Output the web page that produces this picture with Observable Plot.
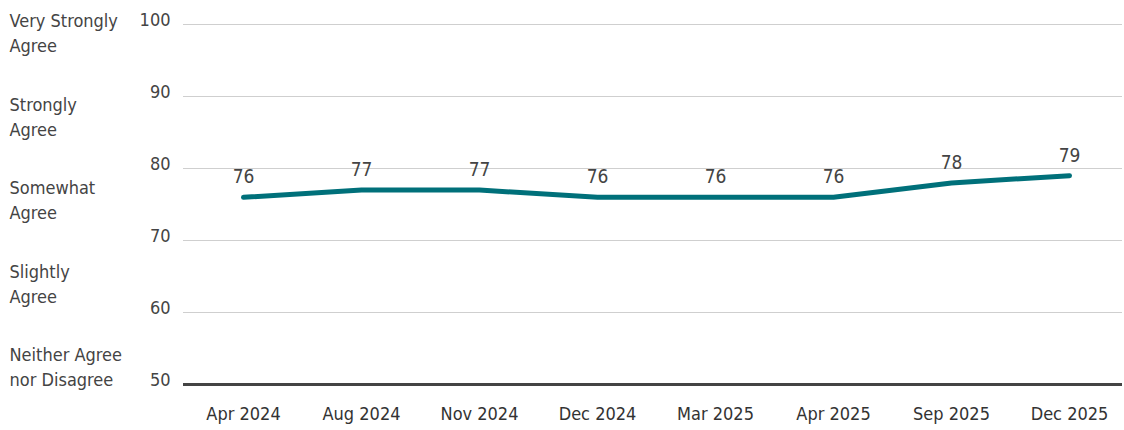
<!DOCTYPE html>
<html>
<head>
<meta charset="utf-8">
<script src="https://cdn.jsdelivr.net/npm/d3@7"></script>
<script src="https://cdn.jsdelivr.net/npm/@observablehq/plot@0.6"></script>
<style>
  html, body { margin: 0; padding: 0; background: #fff; }
  #chart { width: 1124px; height: 430px; }
</style>
</head>
<body>
<div id="chart"></div>
<script>
const periods = ["Apr 2024", "Aug 2024", "Nov 2024", "Dec 2024", "Mar 2025", "Apr 2025", "Sep 2025", "Dec 2025"];
const scores = [76, 77, 77, 76, 76, 76, 78, 79];
const yTicks = [50, 60, 70, 80, 90, 100];
const bandLabels = ["Very Strongly\nAgree", "Strongly\nAgree", "Somewhat\nAgree", "Slightly\nAgree", "Neither Agree\nnor Disagree"];

const data = periods.map((p, i) => ({period: p, score: scores[i]}));
const FONT = "'DejaVu Sans Condensed', 'Liberation Sans Narrow', Roboto, sans-serif";

const chart = Plot.plot({
  width: 1124,
  height: 430,
  marginTop: 24,
  marginBottom: 46,
  marginLeft: 183,
  marginRight: 2,
  style: {fontFamily: FONT, fontSize: "18px", color: "#444", background: "#fff"},
  x: {type: "point", domain: periods, padding: 0, insetLeft: 59, insetRight: 52, label: null},
  y: {domain: [50, 100], label: null},
  marks: [
    Plot.gridY(yTicks.filter(t => t > 50), {stroke: "#cfcfcf", strokeOpacity: 1, strokeWidth: 1}),
    Plot.ruleY([50], {stroke: "#444", strokeWidth: 3}),
    Plot.axisY(yTicks, {tickSize: 0, tickPadding: 13, dy: -4, label: null, fontSize: 18, fill: "#444"}),
    Plot.axisX({tickSize: 0, tickPadding: 23, label: null, fontSize: 18, fill: "#333"}),
    Plot.text(bandLabels, {
      frameAnchor: "left",
      y: (d, i) => 99 - i * 11.6,
      text: d => d,
      textAnchor: "start",
      dx: -174,
      lineHeight: 1.4,
      fontSize: 18,
      fill: "#444"
    }),
    Plot.line(data, {x: "period", y: "score", stroke: "#00707a", strokeWidth: 5, strokeLinecap: "round", strokeLinejoin: "round"}),
    Plot.text(data, {x: "period", y: "score", text: d => String(d.score), dy: -20, fontSize: 19, fill: "#444"})
  ]
});
document.getElementById("chart").appendChild(chart);
</script>
</body>
</html>
